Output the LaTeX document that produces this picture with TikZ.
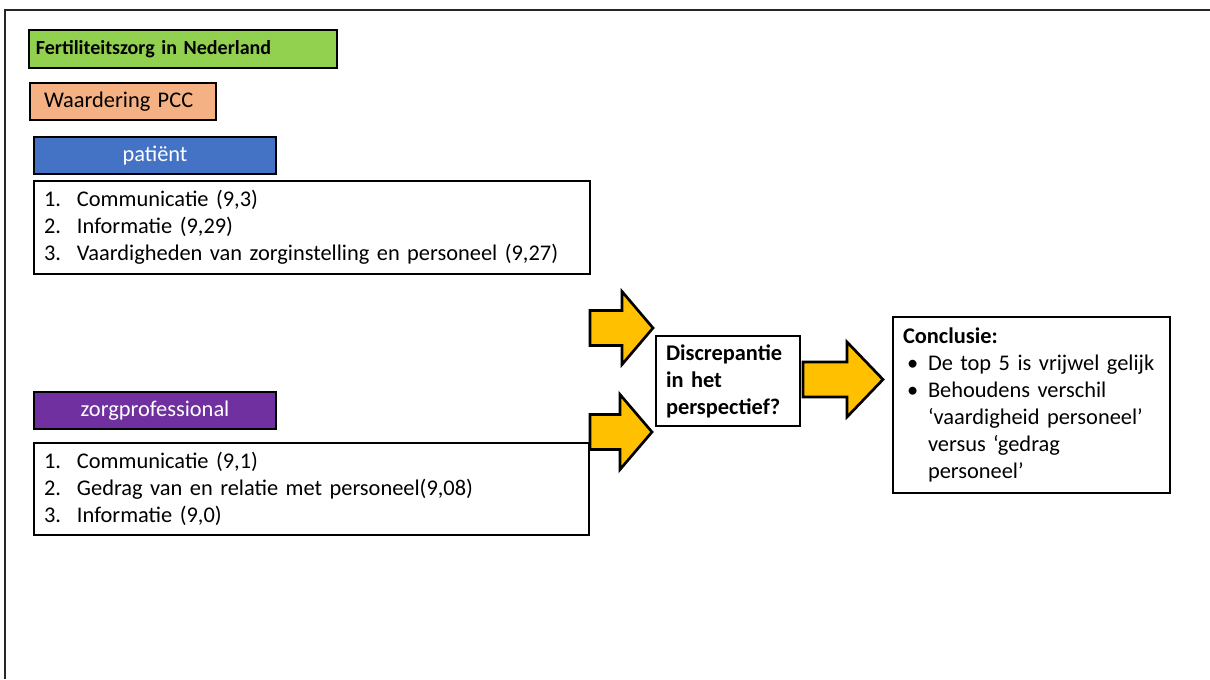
\documentclass[tikz,border=0pt]{standalone}
\usepackage{fontspec}
\setmainfont{Carlito}
\definecolor{kgreen}{HTML}{92D050}
\definecolor{korange}{HTML}{F4B183}
\definecolor{kblue}{HTML}{4472C4}
\definecolor{kpurple}{HTML}{7030A0}
\definecolor{kyellow}{HTML}{FFC000}

% block arrow: tail x, head base x, tip x, centre y, half tail height, half head height
\newcommand\blockarrow[6]{%
  \draw[yarrow] (#1,#4-#5) -- (#2,#4-#5) -- (#2,#4-#6) -- (#3,#4)
    -- (#2,#4+#6) -- (#2,#4+#5) -- (#1,#4+#5) -- cycle;}

\tikzset{
  box/.style={draw=black, line width=2pt, outer sep=0pt, inner ysep=0pt,
    anchor=north west, font=\fontsize{16.8}{20.25}\selectfont},
  leftbox/.style={box, align=left},
  yarrow/.style={draw=black, fill=kyellow, line width=2pt, line join=miter},
}
\newcommand\num[1]{\makebox[24.75pt][l]{#1}}
\newcommand\bul{\hspace{3pt}\makebox[15.75pt][l]{\textbullet}}
\newcommand\cont{\hspace{18.75pt}}

\begin{document}
\begin{tikzpicture}[x=0.75pt, y=-0.75pt]
\useasboundingbox (0,0) rectangle (1210,679);

% page frame
\draw[line width=1.1pt, black!85] (5,679) -- (5,10) -- (1210,10);

% title and legend boxes
\node[leftbox, fill=kgreen, minimum height=28.5pt, inner xsep=5.25pt,
  text width=220.5pt, font=\fontsize{15}{18}\selectfont\bfseries]
  (title) at (29,30) {Fertiliteitszorg in Nederland};
\node[leftbox, fill=korange, minimum height=27.75pt, inner xsep=10.5pt,
  text width=118.5pt] (pcc) at (30,83) {Waardering PCC};

% patient side
\node[box, fill=kblue, text=white, minimum width=181.5pt, minimum height=27.75pt]
  (patient) at (34,137) {patiënt};
\node[leftbox, fill=white, minimum height=69.75pt, inner xsep=7.5pt, text width=402pt]
  (plist) at (34,181) {\num{1.}Communicatie (9,3)\\
  \num{2.}Informatie (9,29)\\
  \num{3.}Vaardigheden van zorginstelling en personeel (9,27)};

% professional side
\node[box, fill=kpurple, text=white, minimum width=181.5pt, minimum height=27.75pt]
  (prof) at (34,392) {zorgprofessional};
\node[leftbox, fill=white, minimum height=69pt, inner xsep=7.5pt, text width=401.25pt]
  (zlist) at (34,443) {\num{1.}Communicatie (9,1)\\
  \num{2.}Gedrag van en relatie met personeel(9,08)\\
  \num{3.}Informatie (9,0)};

% comparison and conclusion
\node[leftbox, fill=white, minimum height=67.5pt, inner xsep=7.5pt, text width=93pt,
  font=\fontsize{16.8}{20.25}\selectfont\bfseries]
  (disc) at (656,336) {Discrepantie\\in het\\perspectief?};
\node[leftbox, fill=white, minimum height=132pt, inner xsep=7.5pt, text width=192.75pt]
  (concl) at (893,317) {\textbf{Conclusie:}\\
  \bul De top 5 is vrijwel gelijk\\
  \bul Behoudens verschil\\
  \cont ‘vaardigheid personeel’\\
  \cont versus ‘gedrag\\
  \cont personeel’};

% block arrows
\blockarrow{590}{622}{653}{328}{17.5}{36.5}
\blockarrow{590}{620}{652}{432}{17.5}{37.5}
\blockarrow{803}{847}{883}{379.5}{17.5}{37.5}
\end{tikzpicture}
\end{document}
